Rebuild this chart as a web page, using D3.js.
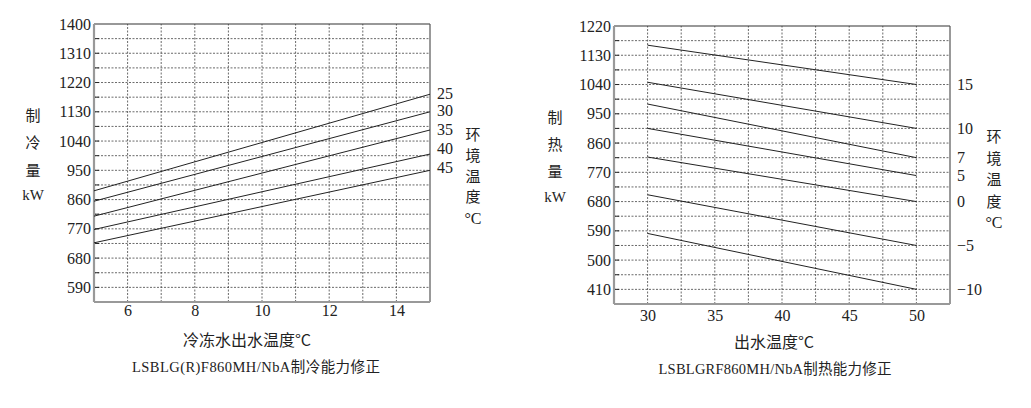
<!DOCTYPE html>
<html><head><meta charset="utf-8">
<script src="https://cdn.jsdelivr.net/npm/d3@7"></script>
<style>
body{margin:0;background:#fff;}
svg{display:block;}
text.num{font-family:"Liberation Serif","Times New Roman",serif !important;font-size:16px;fill:#222;}
text.cjk{font-family:"Noto Sans CJK SC",sans-serif;font-size:15px;fill:#222;}
text.cap{font-family:"Liberation Serif","Noto Sans CJK SC",serif;font-size:14.5px;fill:#222;}
</style></head><body>
<svg id="c" width="1031" height="408"></svg>
<script>
// ---- Left chart: cooling capacity ----
const coolX = [5, 15];                       // chilled water outlet temp, °C
const coolAmbient = ["25", "30", "35", "40", "45"];
const coolStart = [887, 855, 809, 768, 727]; // kW at 5 °C
const coolEnd = [1184, 1130, 1074, 1000, 950]; // kW at 15 °C
const coolYTicks = [590, 680, 770, 860, 950, 1040, 1130, 1220, 1310, 1400];
const coolXTicks = [6, 8, 10, 12, 14];

// ---- Right chart: heating capacity ----
const heatX = [30, 50];                      // outlet water temp, °C
const heatAmbient = ["15", "10", "7", "5", "0", "\u22125", "\u221210"];
const heatStart = [1161, 1047, 980, 905, 817, 701, 582];
const heatEnd = [1040, 905, 815, 760, 680, 545, 410];
const heatYTicks = [410, 500, 590, 680, 770, 860, 950, 1040, 1130, 1220];
const heatXTicks = [30, 35, 40, 45, 50];

const svg = d3.select("#c");
const SERIF = "'Liberation Serif', 'Times New Roman', serif";

function panel(o) {
  const g = svg.append("g");
  const x = d3.scaleLinear().domain(o.xDomain).range(o.xRange);
  const y = d3.scaleLinear().domain(o.yDomain).range(o.yRange);
  const [x0, x1] = o.xRange, [y0, y1] = o.yRange; // y0 bottom, y1 top

  // grid
  g.selectAll(".hg").data(d3.range(o.yDomain[0] + o.yStep, o.yDomain[1], o.yStep))
    .join("line").attr("x1", x0).attr("x2", x1)
    .attr("y1", d => y(d)).attr("y2", d => y(d))
    .attr("stroke", "#444").attr("stroke-width", 0.8).attr("stroke-dasharray", "2,1.5");
  g.selectAll(".vg").data(d3.range(o.xDomain[0] + o.xStep, o.xDomain[1] - 1e-9, o.xStep))
    .join("line").attr("y1", y0).attr("y2", y1)
    .attr("x1", d => x(d)).attr("x2", d => x(d))
    .attr("stroke", "#444").attr("stroke-width", 0.8).attr("stroke-dasharray", "2,1.5");
  g.selectAll(".tk").data(d3.range(o.yDomain[0] + o.yStep, o.yDomain[1], o.yStep))
    .join("line").attr("x1", x0).attr("x2", x0 + 5)
    .attr("y1", d => y(d)).attr("y2", d => y(d))
    .attr("stroke", "#222").attr("stroke-width", 1);

  // frame
  g.append("line").attr("x1", x0).attr("x2", x1).attr("y1", y1).attr("y2", y1).attr("stroke", "#333").attr("stroke-width", 1.2);
  g.append("line").attr("x1", x1).attr("x2", x1).attr("y1", y1).attr("y2", y0).attr("stroke", "#555").attr("stroke-width", 1.2);
  g.append("line").attr("x1", x0).attr("x2", x0).attr("y1", y1).attr("y2", y0).attr("stroke", "#999").attr("stroke-width", 2.2);
  g.append("line").attr("x1", x0).attr("x2", x1).attr("y1", y0).attr("y2", y0).attr("stroke", "#999").attr("stroke-width", 2.2);

  // axes labels
  const ya = g.append("g").attr("transform", `translate(${x0 - 1},0)`)
    .call(d3.axisLeft(y).tickValues(o.yTicks).tickFormat(d3.format("d")).tickSize(0).tickPadding(2));
  ya.attr("font-family", null).attr("font-size", null);
  ya.select(".domain").remove();
  ya.selectAll("text").attr("fill", "#222").style("font-family", SERIF).style("font-size", "16px");
  const xa = g.append("g").attr("transform", `translate(0,${y0})`)
    .call(d3.axisBottom(x).tickValues(o.xTicks).tickFormat(d3.format("d")).tickSize(0).tickPadding(o.xPad));
  xa.attr("font-family", null).attr("font-size", null);
  xa.select(".domain").remove();
  xa.selectAll("text").attr("fill", "#222").style("font-family", SERIF).style("font-size", "16px");

  // series lines
  const line = d3.line().x(d => x(d[0])).y(d => y(d[1]));
  o.start.forEach((s, i) => {
    g.append("path").attr("d", line([[o.lineX[0], s], [o.lineX[1], o.end[i]]]))
      .attr("fill", "none").attr("stroke", "#222").attr("stroke-width", 1);
    g.append("text").attr("class", "num").attr("x", o.labX)
      .attr("y", y(o.end[i]) + (o.labAdj ? o.labAdj[i] : 0)).attr("dy", "0.35em")
      .style("font-family", SERIF).text(o.names[i]);
  });

  // vertical labels
  o.yTitle.forEach((t, i) => {
    g.append("text").attr("class", i === o.yTitle.length - 1 ? "num" : "cjk")
      .attr("x", o.yTitleX).attr("y", o.yTitleY[i])
      .attr("text-anchor", "middle").attr("dy", "0.35em")
      .style("font-size", i === o.yTitle.length - 1 ? "15px" : null).text(t);
  });
  o.rTitle.forEach((t, i) => {
    g.append("text").attr("class", i === o.rTitle.length - 1 ? "num" : "cjk")
      .attr("x", o.rTitleX).attr("y", o.rTitleY[i])
      .attr("text-anchor", "middle").attr("dy", "0.35em").text(t);
  });
  g.append("text").attr("class", "cjk").style("font-size", "16px")
    .attr("x", o.xTitleX).attr("y", o.xTitleY).attr("text-anchor", "middle").attr("dy", "0.35em")
    .text(o.xTitle);
  g.append("text").attr("class", "cap")
    .attr("x", o.capX).attr("y", o.capY).attr("text-anchor", "middle").attr("dy", "0.35em")
    .attr("textLength", o.capW).attr("lengthAdjust", "spacing")
    .text(o.cap);
}

panel({
  xDomain: [5, 15], xRange: [94, 430], yDomain: [545, 1400], yRange: [302, 24],
  yStep: 45, xStep: 1, yTicks: coolYTicks, xTicks: coolXTicks, xPad: 3,
  lineX: coolX, start: coolStart, end: coolEnd, names: coolAmbient,
  labX: 437, labAdj: [-1, -1, -1, -6, -3],
  yTitle: ["制", "冷", "量", "kW"], yTitleX: 33, yTitleY: [116, 143, 171, 195],
  rTitle: ["环", "境", "温", "度", "°C"], rTitleX: 473, rTitleY: [135, 156, 177, 197, 218],
  xTitle: "冷冻水出水温度°C", xTitleX: 247, xTitleY: 340,
  cap: "LSBLG(R)F860MH/NbA制冷能力修正", capX: 256, capY: 367, capW: 248
});

panel({
  xDomain: [27.5, 52.5], xRange: [614, 950], yDomain: [365, 1220], yRange: [304, 26],
  yStep: 45, xStep: 2.5, yTicks: heatYTicks, xTicks: heatXTicks, xPad: 6,
  lineX: heatX, start: heatStart, end: heatEnd, names: heatAmbient,
  labX: 957, labAdj: null,
  yTitle: ["制", "热", "量", "kW"], yTitleX: 555, yTitleY: [118, 145, 172, 197],
  rTitle: ["环", "境", "温", "度", "°C"], rTitleX: 994, rTitleY: [137, 159, 180, 202, 222],
  xTitle: "出水温度°C", xTitleX: 774, xTitleY: 342,
  cap: "LSBLGRF860MH/NbA制热能力修正", capX: 775, capY: 369, capW: 233
});
</script></body></html>
